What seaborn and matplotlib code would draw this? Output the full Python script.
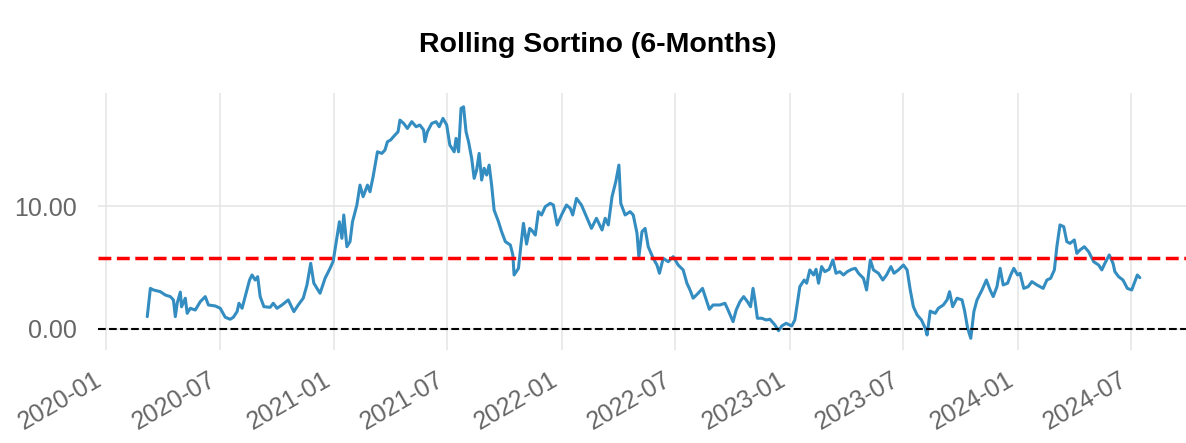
"""
Rolling Sortino (6 mois) - reproduction du graphique.
"""
import pandas as pd
import matplotlib
matplotlib.use("Agg")
import matplotlib.pyplot as plt
import matplotlib.dates as mdates
from matplotlib.ticker import FixedLocator, FormatStrFormatter
import seaborn as sns

dates = [
    "2020-03-07", "2020-03-12", "2020-03-17", "2020-03-28", "2020-04-05", "2020-04-13",
    "2020-04-18", "2020-04-21", "2020-04-24", "2020-04-29", "2020-05-01", "2020-05-07",
    "2020-05-10", "2020-05-15", "2020-05-23", "2020-05-31", "2020-06-08", "2020-06-13",
    "2020-06-24", "2020-07-02", "2020-07-10", "2020-07-18", "2020-07-23", "2020-07-29",
    "2020-08-01", "2020-08-06", "2020-08-11", "2020-08-18", "2020-08-22", "2020-08-27",
    "2020-08-31", "2020-09-04", "2020-09-10", "2020-09-20", "2020-09-25", "2020-10-01",
    "2020-10-09", "2020-10-19", "2020-10-28", "2020-11-04", "2020-11-12", "2020-11-18",
    "2020-11-24", "2020-11-29", "2020-12-09", "2020-12-17", "2020-12-25", "2020-12-30",
    "2021-01-05", "2021-01-09", "2021-01-13", "2021-01-16", "2021-01-21", "2021-01-26",
    "2021-01-30", "2021-02-06", "2021-02-11", "2021-02-16", "2021-02-23", "2021-02-27",
    "2021-03-04", "2021-03-11", "2021-03-18", "2021-03-23", "2021-03-27", "2021-04-01",
    "2021-04-08", "2021-04-13", "2021-04-16", "2021-04-22", "2021-04-28", "2021-05-05",
    "2021-05-12", "2021-05-18", "2021-05-24", "2021-05-26", "2021-05-30", "2021-06-06",
    "2021-06-13", "2021-06-18", "2021-06-24", "2021-06-30", "2021-07-05", "2021-07-12",
    "2021-07-15", "2021-07-19", "2021-07-23", "2021-07-27", "2021-07-31", "2021-08-04",
    "2021-08-09", "2021-08-13", "2021-08-17", "2021-08-21", "2021-08-25", "2021-08-29",
    "2021-09-02", "2021-09-06", "2021-09-10", "2021-09-14", "2021-09-21", "2021-09-26",
    "2021-10-02", "2021-10-10", "2021-10-14", "2021-10-16", "2021-10-23", "2021-10-27",
    "2021-10-31", "2021-11-05", "2021-11-10", "2021-11-13", "2021-11-19", "2021-11-24",
    "2021-11-29", "2021-12-05", "2021-12-13", "2021-12-18", "2021-12-24", "2021-12-31",
    "2022-01-08", "2022-01-14", "2022-01-18", "2022-01-24", "2022-02-01", "2022-02-09",
    "2022-02-17", "2022-02-25", "2022-03-06", "2022-03-11", "2022-03-16", "2022-03-22",
    "2022-03-28", "2022-04-02", "2022-04-05", "2022-04-12", "2022-04-20", "2022-04-25",
    "2022-05-01", "2022-05-04", "2022-05-09", "2022-05-14", "2022-05-19", "2022-05-27",
    "2022-06-02", "2022-06-06", "2022-06-12", "2022-06-20", "2022-06-28", "2022-07-06",
    "2022-07-14", "2022-07-20", "2022-07-25", "2022-07-30", "2022-08-07", "2022-08-14",
    "2022-08-21", "2022-08-25", "2022-08-31", "2022-09-08", "2022-09-11", "2022-09-19",
    "2022-09-24", "2022-10-02", "2022-10-07", "2022-10-13", "2022-10-19", "2022-10-25",
    "2022-10-30", "2022-11-03", "2022-11-06", "2022-11-10", "2022-11-17", "2022-11-24",
    "2022-11-30", "2022-12-08", "2022-12-14", "2022-12-19", "2022-12-26", "2023-01-04",
    "2023-01-09", "2023-01-13", "2023-01-17", "2023-01-24", "2023-01-28", "2023-02-02",
    "2023-02-08", "2023-02-12", "2023-02-16", "2023-02-21", "2023-02-26", "2023-03-05",
    "2023-03-11", "2023-03-16", "2023-03-22", "2023-03-28", "2023-04-03", "2023-04-10",
    "2023-04-16", "2023-04-21", "2023-04-29", "2023-05-04", "2023-05-10", "2023-05-15",
    "2023-05-23", "2023-05-30", "2023-06-05", "2023-06-12", "2023-06-17", "2023-06-24",
    "2023-07-02", "2023-07-08", "2023-07-13", "2023-07-18", "2023-07-24", "2023-07-31",
    "2023-08-06", "2023-08-09", "2023-08-14", "2023-08-22", "2023-08-27", "2023-09-04",
    "2023-09-10", "2023-09-14", "2023-09-19", "2023-09-26", "2023-10-04", "2023-10-08",
    "2023-10-13", "2023-10-18", "2023-10-23", "2023-10-28", "2023-11-05", "2023-11-12",
    "2023-11-18", "2023-11-23", "2023-11-29", "2023-12-04", "2023-12-09", "2023-12-16",
    "2023-12-21", "2023-12-26", "2024-01-01", "2024-01-05", "2024-01-11", "2024-01-18",
    "2024-01-24", "2024-02-01", "2024-02-11", "2024-02-17", "2024-02-23", "2024-02-29",
    "2024-03-04", "2024-03-09", "2024-03-15", "2024-03-20", "2024-03-25", "2024-04-01",
    "2024-04-05", "2024-04-10", "2024-04-17", "2024-04-24", "2024-05-02", "2024-05-10",
    "2024-05-15", "2024-05-20", "2024-05-27", "2024-06-02", "2024-06-05", "2024-06-11",
    "2024-06-18", "2024-06-25", "2024-07-02", "2024-07-07", "2024-07-11", "2024-07-15",
]
sortino = [
    1.00, 3.30, 3.17, 3.03, 2.76, 2.63,
    2.36, 1.00, 2.09, 3.00, 1.80, 2.50,
    1.27, 1.68, 1.54, 2.22, 2.63, 1.95,
    1.87, 1.68, 0.95, 0.79, 0.95, 1.41,
    2.09, 1.68, 2.63, 3.98, 4.39, 3.98,
    4.25, 2.63, 1.81, 1.76, 2.09, 1.68,
    1.95, 2.36, 1.41, 1.95, 2.50, 3.58,
    5.34, 3.72, 2.90, 4.12, 4.93, 5.50,
    7.40, 8.72, 7.37, 9.27, 6.69, 7.10,
    8.72, 10.08, 11.70, 10.76, 11.70, 11.16,
    12.38, 14.41, 14.28, 14.55, 15.23, 15.37,
    15.77, 16.04, 16.99, 16.72, 16.31, 16.86,
    16.45, 16.59, 16.18, 15.23, 16.04, 16.72,
    16.86, 16.45, 17.13, 16.59, 14.96, 14.41,
    15.50, 14.41, 17.94, 18.07, 16.04, 15.23,
    13.88, 12.25, 12.93, 14.28, 12.11, 13.07,
    12.52, 13.33, 11.70, 9.67, 8.72, 7.91,
    7.10, 6.83, 6.02, 4.39, 4.93, 6.83,
    8.59, 6.90, 8.18, 8.05, 7.64, 9.54,
    9.27, 9.95, 10.22, 10.08, 8.46, 9.27,
    10.08, 9.81, 9.27, 10.62, 10.08, 9.13,
    8.18, 9.00, 8.05, 9.00, 8.46, 10.76,
    11.98, 13.33, 10.22, 9.27, 9.54, 9.27,
    7.78, 5.88, 7.91, 8.18, 6.69, 5.75,
    5.20, 4.53, 5.75, 5.47, 5.88, 5.20,
    4.80, 3.72, 3.17, 2.50, 2.90, 3.30,
    2.22, 1.60, 1.95, 1.95, 1.95, 2.09,
    1.54, 0.59, 1.54, 2.22, 2.63, 2.22,
    1.81, 3.30, 2.36, 0.87, 0.87, 0.73,
    0.79, 0.33, -0.14, 0.24, 0.46, 0.24,
    0.73, 2.09, 3.44, 3.98, 3.72, 4.80,
    4.39, 4.85, 3.72, 5.07, 4.66, 4.85,
    5.61, 4.53, 4.66, 4.39, 4.66, 4.85,
    4.93, 4.53, 4.12, 3.17, 5.61, 4.80,
    4.53, 3.98, 4.39, 5.07, 4.53, 4.80,
    5.20, 4.80, 3.17, 1.81, 1.14, 0.73,
    0.06, -0.49, 1.45, 1.27, 1.68, 1.95,
    2.36, 3.03, 1.81, 2.50, 2.36, 1.50,
    0.06, -0.76, 1.41, 2.36, 3.17, 3.98,
    3.17, 2.63, 3.44, 4.93, 3.58, 3.72,
    4.39, 4.93, 4.39, 4.53, 3.30, 3.44,
    3.85, 3.58, 3.30, 3.98, 4.12, 4.80,
    6.69, 8.46, 8.32, 7.10, 6.96, 7.24,
    6.15, 6.42, 6.69, 6.28, 5.47, 5.20,
    4.80, 5.34, 6.02, 5.34, 4.66, 4.25,
    3.98, 3.30, 3.17, 3.85, 4.39, 4.17,
]
mean_sortino = 5.77
y_ticks = [0, 10]

df = pd.DataFrame({"date": pd.to_datetime(dates), "sortino": sortino})

sns.set_style("white")
plt.rcParams["font.family"] = ["Liberation Sans", "DejaVu Sans"]

fig = plt.figure(figsize=(11.86, 4.43), dpi=100)
ax = fig.add_axes([0.0826, 0.21, 0.9174, 0.58])

# Grille légère
ax.grid(True, color="#e6e6e6", linewidth=1.2)
ax.set_axisbelow(True)

sns.lineplot(data=df, x="date", y="sortino", ax=ax, color="#348dc1", linewidth=2.2)
ax.axhline(mean_sortino, color="red", ls="--", lw=2.5)
ax.axhline(0, color="black", ls="--", lw=1.5, zorder=2)

ax.set_xlim(pd.Timestamp("2019-12-19"), pd.Timestamp("2024-09-27"))
ax.set_ylim(-1.71, 19.19)
ax.yaxis.set_major_locator(FixedLocator(y_ticks))
ax.yaxis.set_major_formatter(FormatStrFormatter("%.2f"))
ax.xaxis.set_major_locator(mdates.MonthLocator(bymonth=[1, 7]))
ax.xaxis.set_major_formatter(mdates.DateFormatter("%Y-%m"))

ax.set_xlabel("")
ax.set_ylabel("")
for side in ["top", "right", "bottom", "left"]:
    ax.spines[side].set_visible(False)

ax.tick_params(axis="y", length=0, pad=15, labelsize=18, labelcolor="#666666")
ax.tick_params(axis="x", length=0, pad=13, labelsize=18, labelcolor="#666666")
plt.setp(ax.get_xticklabels(), rotation=30, ha="right")

fig.suptitle("Rolling Sortino (6-Months)", x=0.504, y=0.898, va="center",
             fontsize=20.5, fontweight="bold", color="black")

plt.savefig("out.png", dpi=100)
plt.close()
